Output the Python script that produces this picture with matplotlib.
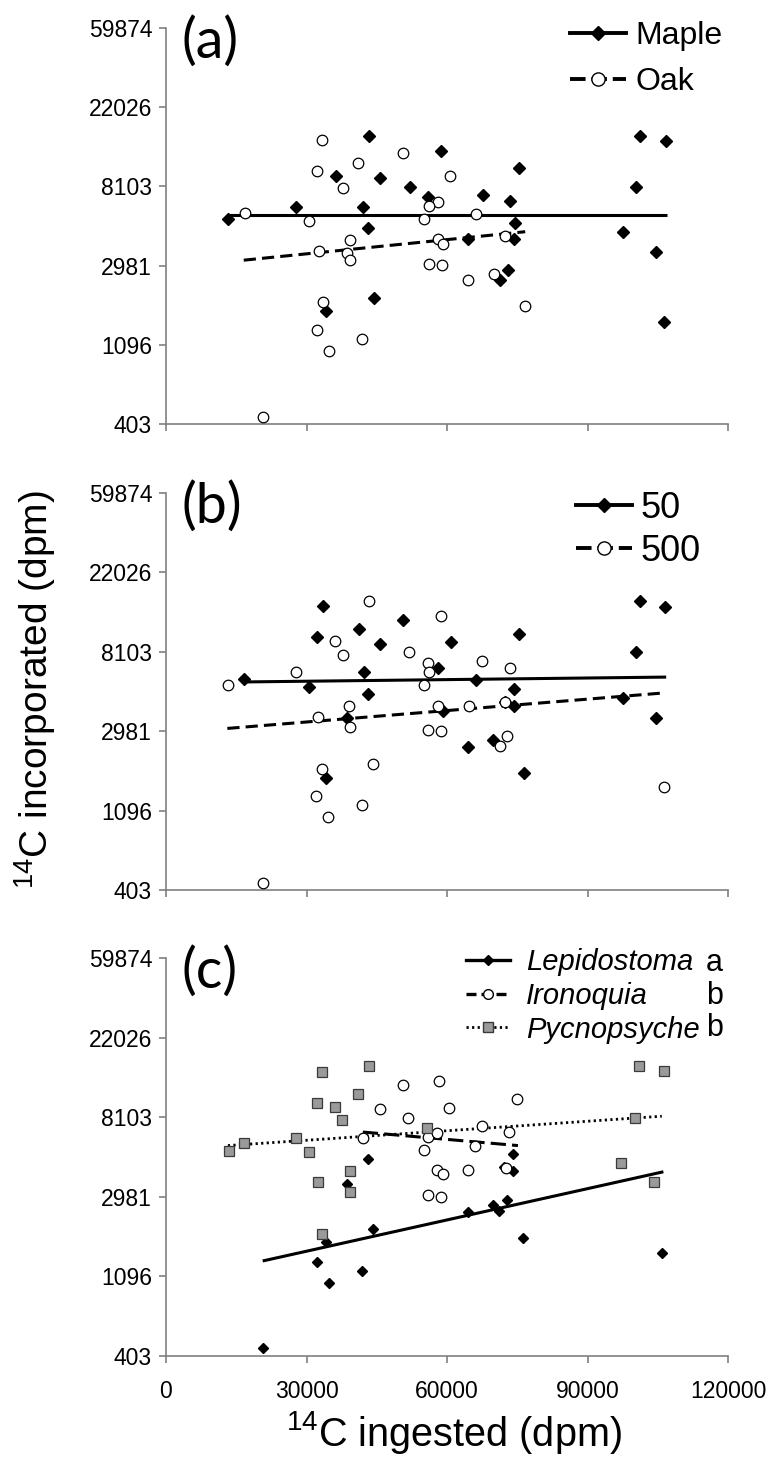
import numpy as np
import matplotlib
matplotlib.use("Agg")
import matplotlib.pyplot as plt
from matplotlib.lines import Line2D

plt.rcParams['font.family'] = ['Liberation Sans', 'DejaVu Sans']
plt.rcParams['mathtext.fontset'] = 'custom'
plt.rcParams['mathtext.rm'] = 'Liberation Sans'
plt.rcParams['mathtext.it'] = 'Liberation Sans:italic'

# ---------------- data ----------------
ytick_labels = [403, 1096, 2981, 8103, 22026, 59874]
xtick_vals = [0, 30000, 60000, 90000, 120000]

# panel (a)
maple_x = [13340, 27840, 36290, 43330, 42170, 43170, 45650, 44320, 34130, 52030, 55920, 58660,
           67690, 64540, 73490, 75310, 74480, 74400, 72990, 71330, 97600, 100400, 101300, 106700,
           104700, 106300]
maple_y = [5350, 6270, 9200, 15400, 6270, 4810, 8990, 1975, 1670, 8070, 7110, 12640,
           7260, 4150, 6700, 10190, 5130, 4150, 2830, 2490, 4570, 8070, 15400, 14300,
           3550, 1470]
oak_x = [16820, 30490, 33390, 32310, 32640, 33470, 32150, 34710, 37860, 41090, 39190, 38610,
         39350, 41920, 20800, 50700, 60730, 58160, 56260, 55180, 58000, 59070, 56170, 58990,
         66200, 64460, 69930, 72330, 76550]
oak_y = [5820, 5230, 14500, 9850, 3580, 1870, 1320, 1017, 7910, 10900, 4130, 3500,
         3180, 1183, 443, 12320, 9200, 6660, 6310, 5350, 4170, 3930, 3045, 3005,
         5700, 2470, 2690, 4330, 1780]
maple_fit_x = [13300, 106900]
maple_fit_y = [5650, 5650]
oak_fit_x = [16600, 76700]
oak_fit_y = [3190, 4570]

# panel (b)
d50_x = [16750, 30510, 33420, 32170, 34080, 41130, 42210, 43200, 45690, 38720, 50660, 60860,
         58040, 59120, 66170, 64430, 69820, 72470, 74300, 74380, 75290, 76370, 97510, 100400,
         101300, 106600, 104600]
d50_y = [5770, 5170, 14360, 9760, 1650, 10800, 6270, 4770, 8900, 3500, 12130, 9160,
         6580, 3830, 5650, 2450, 2660, 4330, 4110, 5080, 10090, 1760, 4530, 8030,
         15280, 14170, 3530]
d500_x = [13270, 27780, 36150, 37810, 43280, 39140, 32420, 39220, 33330, 32010, 34660, 41790,
          44110, 20730, 51820, 58620, 55890, 56140, 55060, 58040, 55970, 58790, 67580, 64680,
          73470, 72390, 72800, 71310, 106300]
d500_y = [5330, 6270, 9250, 7790, 15400, 4090, 3550, 3150, 1860, 1310, 1007, 1178,
          1975, 440, 8070, 12640, 7040, 6270, 5330, 4110, 3030, 2990, 7230, 4110,
          6640, 4290, 2810, 2470, 1470]
d50_fit_x = [16600, 106800]
d50_fit_y = [5540, 5890]
d500_fit_x = [13100, 106550]
d500_fit_y = [3085, 4830]

# panel (c)
lepi_x = [20810, 32200, 34760, 34270, 41780, 44180, 38730, 43110, 64410, 69780, 71180, 72750,
          72090, 74150, 74150, 76300, 106000]
lepi_y = [443, 1318, 1010, 1680, 1176, 1980, 3520, 4810, 2450, 2690, 2490, 2850,
          4350, 4140, 5110, 1775, 1466]
irono_x = [42030, 45660, 50620, 51690, 58300, 60450, 55990, 57970, 55000, 57890, 59040, 55900,
           58710, 64570, 65900, 67470, 73330, 74900, 72500]
irono_y = [6220, 9010, 12200, 8060, 12690, 9130, 6300, 6630, 5370, 4170, 3950, 3060,
           2990, 4150, 5670, 7220, 6700, 10120, 4290]
pycno_x = [13540, 16760, 27750, 30470, 33280, 32290, 36170, 37650, 41040, 43350, 39310, 32540,
           39310, 33360, 55820, 100080, 100900, 106360, 97190, 104300]
pycno_y = [5310, 5850, 6200, 5260, 14330, 9740, 9230, 7860, 10800, 15430, 4100, 3570,
           3165, 1865, 7100, 7990, 15430, 14390, 4570, 3570]
lepi_fit_x = [20640, 106200]
lepi_fit_y = [1330, 4080]
irono_fit_x = [42030, 75150]
irono_fit_y = [6720, 5670]
pycno_fit_x = [13210, 105860]
pycno_fit_y = [5670, 8200]

panel_labels = ['(a)', '(b)', '(c)']
legend_a = ['Maple', 'Oak']
legend_b = ['50', '500']
legend_c = ['Lepidostoma', 'Ironoquia', 'Pycnopsyche']
letters_c = ['a', 'b', 'b']

# ---------------- figure ----------------
W, H = 769, 1464
fig = plt.figure(figsize=(W / 100, H / 100), dpi=100)

def px_rect(left, top, right, bottom):
    return [left / W, 1 - bottom / H, (right - left) / W, (bottom - top) / H]

axes = [fig.add_axes(px_rect(166, 28, 728, 424)),
        fig.add_axes(px_rect(166, 493, 728, 890)),
        fig.add_axes(px_rect(166, 958, 728, 1356))]

GREY = '#808080'
for i, ax in enumerate(axes):
    ax.set_yscale('log')
    ax.set_ylim(ytick_labels[0], ytick_labels[-1])
    ax.set_xlim(xtick_vals[0], xtick_vals[-1])
    ax.set_yticks(ytick_labels)
    ax.set_yticklabels([str(v) for v in ytick_labels])
    ax.yaxis.set_minor_locator(matplotlib.ticker.NullLocator())
    ax.set_xticks(xtick_vals)
    if i == 2:
        ax.set_xticklabels([str(v) for v in xtick_vals])
    else:
        ax.set_xticklabels([])
    for s in ['top', 'right']:
        ax.spines[s].set_visible(False)
    for s in ['left', 'bottom']:
        ax.spines[s].set_color(GREY)
        ax.spines[s].set_linewidth(1.2)
    ax.tick_params(axis='both', colors=GREY, length=5, width=1.2, labelcolor='black',
                   labelsize=16.5)
    ax.tick_params(axis='y', pad=5)
    ax.tick_params(axis='x', pad=12)
    ax.patch.set_alpha(0)

DMS = 6.3   # diamond size
CMS = 7.6   # circle size

# panel (a)
ax = axes[0]
ax.plot(maple_fit_x, maple_fit_y, color='black', lw=2.2, solid_capstyle='butt')
ax.plot(oak_fit_x, oak_fit_y, color='black', lw=2.2, dashes=(4, 2))
ax.plot(maple_x, maple_y, 'D', ms=DMS, color='black', clip_on=False, zorder=3)
ax.plot(oak_x, oak_y, 'o', ms=CMS, mfc='white', mec='black', mew=0.9, clip_on=False, zorder=3)
ha = [Line2D([], [], color='black', lw=2.8, marker='D', ms=7.5),
      Line2D([], [], color='black', lw=2.8, dashes=(4, 1.5), marker='o', ms=9.5, mfc='white', mec='black')]
ax.legend(ha, legend_a, loc='upper left', bbox_to_anchor=(570 / W, 1 - 21 / H),
          bbox_transform=fig.transFigure, frameon=False, fontsize=23,
          handlelength=1.75, handletextpad=0.3, labelspacing=0.5, borderpad=0, borderaxespad=0)

# panel (b)
ax = axes[1]
ax.plot(d50_fit_x, d50_fit_y, color='black', lw=2.2, solid_capstyle='butt')
ax.plot(d500_fit_x, d500_fit_y, color='black', lw=2.2, dashes=(4, 2))
ax.plot(d50_x, d50_y, 'D', ms=DMS, color='black', clip_on=False, zorder=3)
ax.plot(d500_x, d500_y, 'o', ms=CMS, mfc='white', mec='black', mew=0.9, clip_on=False, zorder=3)
hb = [Line2D([], [], color='black', lw=2.8, marker='D', ms=7.5),
      Line2D([], [], color='black', lw=2.8, dashes=(4, 1.5), marker='o', ms=9.5, mfc='white', mec='black')]
ax.legend(hb, legend_b, loc='upper left', bbox_to_anchor=(576 / W, 1 - 491 / H),
          bbox_transform=fig.transFigure, frameon=False, fontsize=26,
          handlelength=1.55, handletextpad=0.25, labelspacing=0.22, borderpad=0, borderaxespad=0)

# panel (c)
ax = axes[2]
ax.plot(lepi_fit_x, lepi_fit_y, color='black', lw=2.2, solid_capstyle='butt')
ax.plot(irono_fit_x, irono_fit_y, color='black', lw=2.2, dashes=(5, 2))
ax.plot(pycno_fit_x, pycno_fit_y, color='black', lw=2.0, dashes=(0.8, 1.2))
ax.plot(lepi_x, lepi_y, 'D', ms=5.0, color='black', clip_on=False, zorder=3)
ax.plot(irono_x, irono_y, 'o', ms=CMS, mfc='white', mec='black', mew=0.9, clip_on=False, zorder=3)
ax.plot(pycno_x, pycno_y, 's', ms=7, mfc='#9a9a9a', mec='#3a3a3a', mew=0.9, clip_on=False, zorder=3)
hc = [Line2D([], [], color='black', lw=2.4, marker='D', ms=5),
      Line2D([], [], color='black', lw=2.4, dashes=(3, 1.5), marker='o', ms=7, mfc='white', mec='black'),
      Line2D([], [], color='black', lw=2.0, dashes=(0.8, 1.2), marker='s', ms=6.5, mfc='#9a9a9a', mec='#3a3a3a')]
ax.legend(hc, legend_c, loc='upper left', bbox_to_anchor=(466 / W, 1 - 948 / H),
          bbox_transform=fig.transFigure, frameon=False,
          prop={'size': 21, 'style': 'italic'},
          handlelength=1.5, handletextpad=0.55, labelspacing=0.2, borderpad=0, borderaxespad=0)
for j, letter in enumerate(letters_c):
    fig.text(706 / W, 1 - (963 + 32.5 * j) / H, letter, fontsize=22, ha='left', va='center')

# panel labels
for ax_lab, ypix in zip(panel_labels, [42, 507, 972]):
    fig.text(182 / W, 1 - ypix / H, ax_lab, fontsize=40, family=['Lato', 'DejaVu Sans'],
             ha='left', va='center')

# axis labels
fig.text(35 / W, 1 - 690 / H, r'$^{14}$C incorporated (dpm)', rotation=90, fontsize=28,
         ha='center', va='center')
fig.text(454 / W, 1 - 1432 / H, r'$^{14}$C ingested (dpm)', fontsize=28.5,
         ha='center', va='center')

fig.savefig('out.png', dpi=100)
